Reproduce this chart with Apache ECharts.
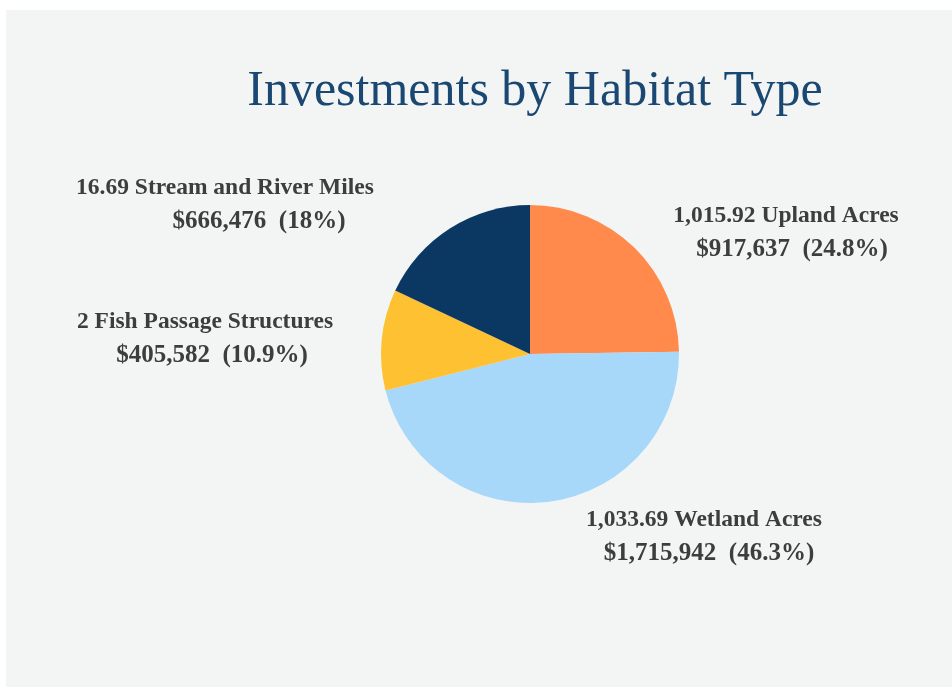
<!DOCTYPE html>
<html>
<head>
<meta charset="utf-8">
<script src="https://cdn.jsdelivr.net/npm/echarts@6/dist/echarts.min.js"></script>
<style>
html,body{margin:0;padding:0;background:#ffffff;}
#chart{width:952px;height:690px;}
</style>
</head>
<body>
<div id="chart"></div>
<script>
const categories = ['1,015.92 Upland Acres', '1,033.69 Wetland Acres', '2 Fish Passage Structures', '16.69 Stream and River Miles'];
const amounts = [917637, 1715942, 405582, 666476];
const amountLabels = ['$917,637', '$1,715,942', '$405,582', '$666,476'];
const percentLabels = ['24.8%', '46.3%', '10.9%', '18%'];
const colors = ['#FF8A4C', '#A7D8FA', '#FDC132', '#0B3862'];

const labelPos = [
  {x: 786, y: 233, shift: 12},
  {x: 704, y: 537, shift: 10},
  {x: 205, y: 339, shift: 14},
  {x: 225, y: 205, shift: 68}
];

const chart = echarts.init(document.getElementById('chart'), null, {renderer: 'canvas'});
chart.setOption({
  animation: false,
  graphic: [{
    type: 'rect', z: -10, silent: true,
    shape: {x: 6, y: 10, width: 946, height: 677},
    style: {fill: '#F3F5F5'}
  }],
  title: {
    text: 'Investments by Habitat Type',
    left: 530, top: 62, textAlign: 'center',
    textStyle: {fontFamily: 'Liberation Serif', fontWeight: 'normal', fontSize: 50, color: '#1A4872'}
  },
  series: [{
    type: 'pie',
    center: [530, 354],
    radius: 149,
    startAngle: 90,
    clockwise: true,
    data: categories.map((c, i) => ({
      name: c, value: amounts[i], itemStyle: {color: colors[i]},
      label: {
        formatter: '{a|' + c + '}\n{b|' + amountLabels[i] + '  (' + percentLabels[i] + ')}',
        rich: {
          a: {fontFamily: 'Liberation Serif', fontWeight: 'bold', fontSize: 23.5, color: '#3D3D3D', lineHeight: 34},
          b: {fontFamily: 'Liberation Serif', fontWeight: 'bold', fontSize: 25, color: '#3D3D3D', lineHeight: 34, padding: [0, 0, 0, labelPos[i].shift]}
        }
      }
    })),
    label: {show: true, position: 'outside', align: 'center'},
    labelLine: {show: false},
    labelLayout: function (p) {
      const lp = labelPos[p.dataIndex];
      return {x: lp.x, y: lp.y, align: 'center', verticalAlign: 'middle'};
    },
    emphasis: {disabled: true}
  }]
});
</script>
</body>
</html>
